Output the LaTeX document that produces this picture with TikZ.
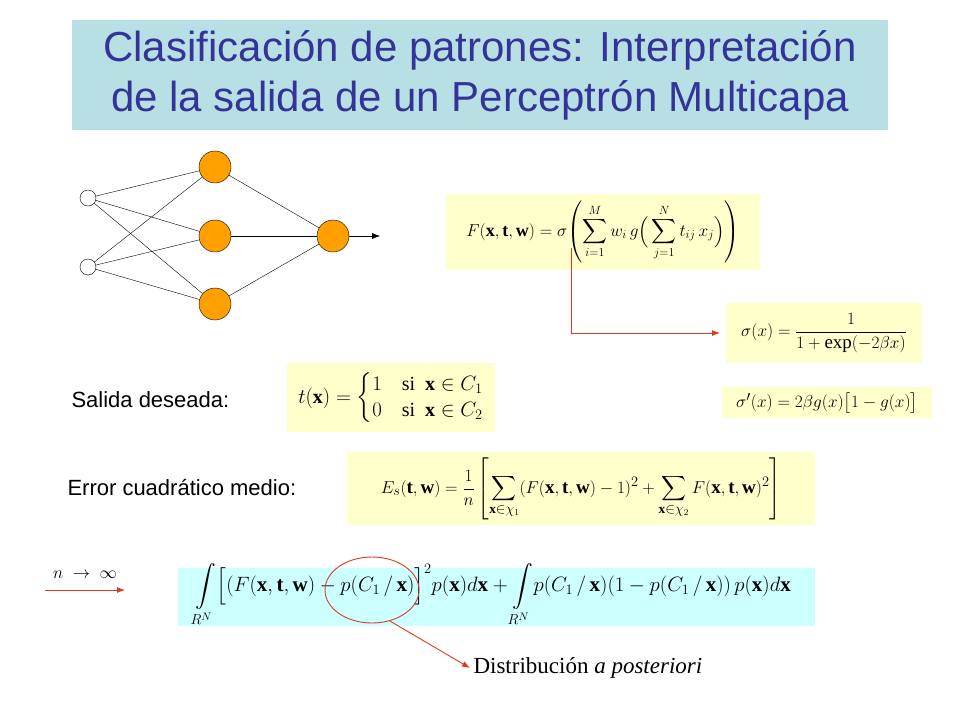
\documentclass[tikz,border=0pt]{standalone}
\usepackage{amsmath}
\usepackage{fontspec}
\setsansfont{Liberation Sans}
\setmainfont{Liberation Serif}
\usetikzlibrary{arrows.meta,shapes.geometric}
\definecolor{tbox}{RGB}{184,224,228}
\definecolor{tblue}{RGB}{51,51,153}
\definecolor{ybox}{RGB}{255,255,204}
\definecolor{cbox}{RGB}{204,255,255}
\definecolor{org}{RGB}{255,160,0}
\definecolor{rl}{RGB}{220,60,30}
\tikzset{
 inp/.style={circle,draw,fill=white,minimum size=16pt,inner sep=0},
 neu/.style={circle,draw,fill=org,minimum size=32pt,inner sep=0},
 lbl/.style={font=\sffamily\fontsize{22}{24}\selectfont,anchor=west},
 red/.style={draw=rl,line width=0.9pt},
 fm/.style={font=\fontsize{19}{22}\selectfont}
}
\begin{document}
\begin{tikzpicture}[x=1pt,y=-1pt]
\useasboundingbox (0,0) rectangle (960,720);
\fill[tbox] (72,20) rectangle (888,130);
\node[text=tblue,font=\sffamily\fontsize{42}{50}\selectfont,align=center] (title) at (480,75) {Clasificación de patrones: Interpretación\\de la salida de un Perceptrón Multicapa};
\node[inp] (i1) at (88,198) {};
\node[inp] (i2) at (88,267) {};
\node[neu] (h1) at (215,167) {};
\node[neu] (h2) at (215,236) {};
\node[neu] (h3) at (215,304) {};
\node[neu] (o) at (333,236) {};
\coordinate (oe) at (380,236);
\foreach \a in {i1,i2} \foreach \b in {h1,h2,h3} \draw (\a) -- (\b);
\foreach \b in {h1,h2,h3} \draw (\b) -- (o);
\draw[-{Latex[length=8pt]}] (o) -- (oe);
\fill[ybox] (446,194) rectangle (760,270);
\node[font=\fontsize{18}{22}\selectfont] (F) at (603,232) {$\displaystyle F(\mathbf{x},\mathbf{t},\mathbf{w})=\sigma\!\left(\sum_{i=1}^{M} w_i\, g\Big(\sum_{j=1}^{N} t_{ij}\,x_j\Big)\right)$};
\fill[ybox] (726,303) rectangle (922,363);
\node[fm] (s) at (824,333) {$\sigma(x)=\dfrac{1}{1+\exp(-2\beta x)}$};
\fill[ybox] (722,387) rectangle (932,418);
\node[fm] (sp) at (827,403) {$\sigma'(x)=2\beta g(x)\big[1-g(x)\big]$};
\coordinate (r1) at (571,248);
\coordinate (r2) at (571,333);
\coordinate (r3) at (720,333);
\draw[red,-{Latex[length=8pt]}] (r1) -- (r2) -- (r3);
\node[lbl] (sal) at (68,400) {Salida deseada:};
\fill[ybox] (287,363) rectangle (495,432);
\node[font=\fontsize{20}{22}\selectfont] (t) at (391,398) {$t(\mathbf{x})=\begin{cases}1 & \text{si}\ \ \mathbf{x}\in C_1\\ 0 & \text{si}\ \ \mathbf{x}\in C_2\end{cases}$};
\node[lbl] (err) at (64,487) {Error cuadrático medio:};
\fill[ybox] (347,452) rectangle (815,525);
\node[fm] (E) at (581,489) {$\displaystyle E_s(\mathbf{t},\mathbf{w})=\frac{1}{n}\left[\sum_{\mathbf{x}\in\chi_1}(F(\mathbf{x},\mathbf{t},\mathbf{w})-1)^2+\sum_{\mathbf{x}\in\chi_2}F(\mathbf{x},\mathbf{t},\mathbf{w})^2\right]$};
\node[font=\fontsize{19}{20}\selectfont] (n) at (85,575) {$n\ \rightarrow\ \infty$};
\coordinate (a1) at (45,590);
\coordinate (a2) at (125,590);
\draw[red,-{Latex[length=8pt]}] (a1) -- (a2);
\fill[cbox] (178,568) rectangle (815,626);
\node[font=\fontsize{21}{24}\selectfont] (I) at (493,595) {$\displaystyle\int\limits_{R^N}\!\Big[(F(\mathbf{x},\mathbf{t},\mathbf{w})-p(C_1\,/\,\mathbf{x})\Big]^2 p(\mathbf{x})d\mathbf{x}+\int\limits_{R^N}\! p(C_1\,/\,\mathbf{x})(1-p(C_1\,/\,\mathbf{x}))\,p(\mathbf{x})d\mathbf{x}$};
\node[red,ellipse,minimum width=94pt,minimum height=66pt,draw] (el) at (372,590) {};
\node[anchor=west,font=\fontsize{23}{25}\selectfont] (d) at (470,668) {Distribución \textit{a posteriori}};
\draw[red,-{Latex[length=8pt]}] (el.-60) -- (d.west);
\end{tikzpicture}
\end{document}
